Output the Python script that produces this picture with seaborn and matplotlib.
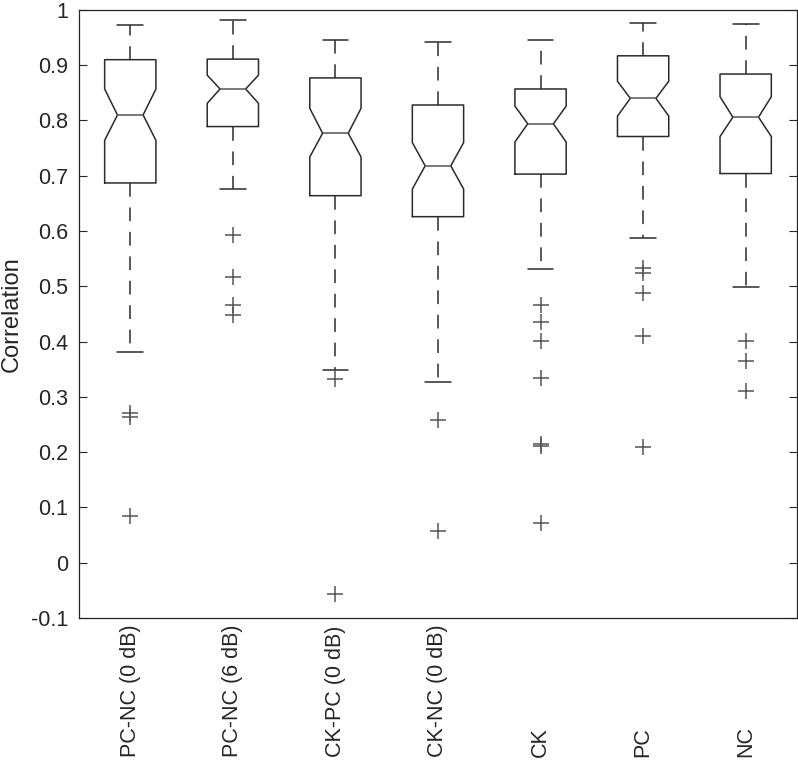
import matplotlib
matplotlib.use("Agg")
import matplotlib.pyplot as plt
import seaborn as sns

# Values
conditions = ["PC-NC (0 dB)", "PC-NC (6 dB)", "CK-PC (0 dB)", "CK-NC (0 dB)", "CK", "PC", "NC"]
medians = [0.810, 0.857, 0.777, 0.718, 0.794, 0.840, 0.806]
q1 = [0.687, 0.789, 0.664, 0.626, 0.703, 0.771, 0.704]
q3 = [0.910, 0.911, 0.877, 0.828, 0.857, 0.917, 0.884]
notch_lo = [0.764, 0.831, 0.734, 0.676, 0.761, 0.808, 0.771]
notch_hi = [0.857, 0.882, 0.822, 0.760, 0.826, 0.871, 0.843]
whisker_lo = [0.381, 0.676, 0.349, 0.327, 0.532, 0.588, 0.499]
whisker_hi = [0.973, 0.981, 0.945, 0.942, 0.945, 0.976, 0.975]
outliers = [
    [0.271, 0.264, 0.085],
    [0.593, 0.516, 0.466, 0.448],
    [0.333, -0.056],
    [0.259, 0.057],
    [0.467, 0.435, 0.401, 0.335, 0.214, 0.212, 0.071],
    [0.534, 0.524, 0.488, 0.410, 0.210],
    [0.401, 0.365, 0.311],
]
y_ticks = [-0.1, 0, 0.1, 0.2, 0.3, 0.4, 0.5, 0.6, 0.7, 0.8, 0.9, 1]
y_ticklabels = ["-0.1", "0", "0.1", "0.2", "0.3", "0.4", "0.5", "0.6", "0.7", "0.8", "0.9", "1"]

sns.set_theme(style="white")
plt.rcParams["font.family"] = ["Liberation Sans", "DejaVu Sans"]

ink = "#262626"
stats = []
for i, name in enumerate(conditions):
    stats.append({
        "label": name,
        "med": medians[i],
        "q1": q1[i],
        "q3": q3[i],
        "cilo": notch_lo[i],
        "cihi": notch_hi[i],
        "whislo": whisker_lo[i],
        "whishi": whisker_hi[i],
        "fliers": outliers[i],
    })

fig = plt.figure(figsize=(7.98, 7.63), dpi=100)
ax = fig.add_axes([0.099, 0.19, 0.8997, 0.797])

ax.bxp(
    stats,
    positions=range(1, len(conditions) + 1),
    widths=0.5,
    shownotches=True,
    showfliers=True,
    boxprops=dict(color="#2b2b2b", linewidth=1.1),
    medianprops=dict(color="#555555", linewidth=1.1),
    whiskerprops=dict(color="#2b2b2b", linewidth=1.1, linestyle=(0, (9, 7))),
    capprops=dict(color="#2b2b2b", linewidth=1.1),
    flierprops=dict(marker="+", markersize=11, markeredgewidth=1.1,
                    markeredgecolor="#555555", linestyle="none"),
)

ax.set_xlim(0.5, len(conditions) + 0.5)
ax.set_ylim(-0.1, 1)
ax.set_yticks(y_ticks)
ax.set_yticklabels(y_ticklabels)
ax.set_xticks(range(1, len(conditions) + 1))
ax.set_xticklabels(conditions, rotation=90, va="bottom", ha="center")
ax.tick_params(axis="x", length=0, pad=100, labelsize=15.5, colors=ink)
ax.tick_params(axis="y", direction="in", length=6, width=0.8, left=True, right=True,
               pad=8, labelsize=15.5, colors=ink)
ax.set_ylabel("Correlation", fontsize=17, color=ink, labelpad=6)

for spine in ax.spines.values():
    spine.set_visible(True)
    spine.set_color(ink)
    spine.set_linewidth(0.9)

fig.savefig("out.png", dpi=100)
